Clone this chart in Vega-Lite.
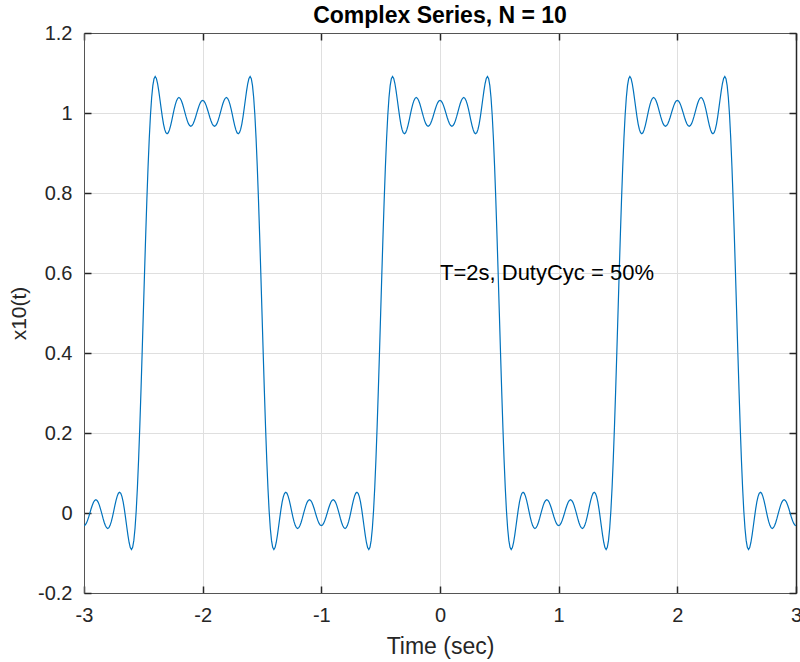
{
"$schema": "https://vega.github.io/schema/vega-lite/v6.json",
"width": 712, "height": 560,
"autosize": {"type": "none"},
"padding": {"left": 84, "top": 33, "right": 4, "bottom": 69},
"background": "white",
"config": {"font": "Liberation Sans", "view": {"stroke": null}},
"title": {"text": "Complex Series, N = 10", "fontSize": 23, "fontWeight": "bold", "color": "#000000", "offset": -5, "font": "Liberation Sans", "anchor": "middle"},
"datasets": {
"curve": [
{"t":-3,"y":-0.0315},{"t":-2.99,"y":-0.03},{"t":-2.98,"y":-0.0254},{"t":-2.97,"y":-0.0184},{"t":-2.96,"y":-0.0094},{"t":-2.95,"y":0.0005},{"t":-2.94,"y":0.0105},{"t":-2.93,"y":0.0195},{"t":-2.92,"y":0.0268},{"t":-2.91,"y":0.0315},
{"t":-2.9,"y":0.0331},{"t":-2.89,"y":0.0314},{"t":-2.88,"y":0.0266},{"t":-2.87,"y":0.019},{"t":-2.86,"y":0.0092},{"t":-2.85,"y":-0.0017},{"t":-2.84,"y":-0.0129},{"t":-2.83,"y":-0.0231},{"t":-2.82,"y":-0.0313},{"t":-2.81,"y":-0.0367},
{"t":-2.8,"y":-0.0386},{"t":-2.79,"y":-0.0367},{"t":-2.78,"y":-0.0309},{"t":-2.77,"y":-0.0216},{"t":-2.76,"y":-0.0096},{"t":-2.75,"y":0.0041},{"t":-2.74,"y":0.0182},{"t":-2.73,"y":0.0314},{"t":-2.72,"y":0.0423},{"t":-2.71,"y":0.0495},
{"t":-2.7,"y":0.052},{"t":-2.69,"y":0.0493},{"t":-2.68,"y":0.0411},{"t":-2.67,"y":0.0276},{"t":-2.66,"y":0.0096},{"t":-2.65,"y":-0.0114},{"t":-2.64,"y":-0.0338},{"t":-2.63,"y":-0.0553},{"t":-2.62,"y":-0.0737},{"t":-2.61,"y":-0.0864},
{"t":-2.6,"y":-0.0912},{"t":-2.59,"y":-0.0858},{"t":-2.58,"y":-0.0685},{"t":-2.57,"y":-0.0382},{"t":-2.56,"y":0.0057},{"t":-2.55,"y":0.0631},{"t":-2.54,"y":0.1332},{"t":-2.53,"y":0.2143},{"t":-2.52,"y":0.3043},{"t":-2.51,"y":0.4005},
{"t":-2.5,"y":0.5},{"t":-2.49,"y":0.5995},{"t":-2.48,"y":0.6957},{"t":-2.47,"y":0.7857},{"t":-2.46,"y":0.8668},{"t":-2.45,"y":0.9369},{"t":-2.44,"y":0.9943},{"t":-2.43,"y":1.0382},{"t":-2.42,"y":1.0685},{"t":-2.41,"y":1.0858},
{"t":-2.4,"y":1.0912},{"t":-2.39,"y":1.0864},{"t":-2.38,"y":1.0737},{"t":-2.37,"y":1.0553},{"t":-2.36,"y":1.0338},{"t":-2.35,"y":1.0114},{"t":-2.34,"y":0.9904},{"t":-2.33,"y":0.9724},{"t":-2.32,"y":0.9589},{"t":-2.31,"y":0.9507},
{"t":-2.3,"y":0.948},{"t":-2.29,"y":0.9505},{"t":-2.28,"y":0.9577},{"t":-2.27,"y":0.9686},{"t":-2.26,"y":0.9818},{"t":-2.25,"y":0.9959},{"t":-2.24,"y":1.0096},{"t":-2.23,"y":1.0216},{"t":-2.22,"y":1.0309},{"t":-2.21,"y":1.0367},
{"t":-2.2,"y":1.0386},{"t":-2.19,"y":1.0367},{"t":-2.18,"y":1.0313},{"t":-2.17,"y":1.0231},{"t":-2.16,"y":1.0129},{"t":-2.15,"y":1.0017},{"t":-2.14,"y":0.9908},{"t":-2.13,"y":0.981},{"t":-2.12,"y":0.9734},{"t":-2.11,"y":0.9686},
{"t":-2.1,"y":0.9669},{"t":-2.09,"y":0.9685},{"t":-2.08,"y":0.9732},{"t":-2.07,"y":0.9805},{"t":-2.06,"y":0.9895},{"t":-2.05,"y":0.9995},{"t":-2.04,"y":1.0094},{"t":-2.03,"y":1.0184},{"t":-2.02,"y":1.0254},{"t":-2.01,"y":1.03},
{"t":-2,"y":1.0315},
{"t":-1.99,"y":1.03},{"t":-1.98,"y":1.0254},{"t":-1.97,"y":1.0184},{"t":-1.96,"y":1.0094},{"t":-1.95,"y":0.9995},{"t":-1.94,"y":0.9895},{"t":-1.93,"y":0.9805},{"t":-1.92,"y":0.9732},{"t":-1.91,"y":0.9685},{"t":-1.9,"y":0.9669},
{"t":-1.89,"y":0.9686},{"t":-1.88,"y":0.9734},{"t":-1.87,"y":0.981},{"t":-1.86,"y":0.9908},{"t":-1.85,"y":1.0017},{"t":-1.84,"y":1.0129},{"t":-1.83,"y":1.0231},{"t":-1.82,"y":1.0313},{"t":-1.81,"y":1.0367},{"t":-1.8,"y":1.0386},
{"t":-1.79,"y":1.0367},{"t":-1.78,"y":1.0309},{"t":-1.77,"y":1.0216},{"t":-1.76,"y":1.0096},{"t":-1.75,"y":0.9959},{"t":-1.74,"y":0.9818},{"t":-1.73,"y":0.9686},{"t":-1.72,"y":0.9577},{"t":-1.71,"y":0.9505},{"t":-1.7,"y":0.948},
{"t":-1.69,"y":0.9507},{"t":-1.68,"y":0.9589},{"t":-1.67,"y":0.9724},{"t":-1.66,"y":0.9904},{"t":-1.65,"y":1.0114},{"t":-1.64,"y":1.0338},{"t":-1.63,"y":1.0553},{"t":-1.62,"y":1.0737},{"t":-1.61,"y":1.0864},{"t":-1.6,"y":1.0912},
{"t":-1.59,"y":1.0858},{"t":-1.58,"y":1.0685},{"t":-1.57,"y":1.0382},{"t":-1.56,"y":0.9943},{"t":-1.55,"y":0.9369},{"t":-1.54,"y":0.8668},{"t":-1.53,"y":0.7857},{"t":-1.52,"y":0.6957},{"t":-1.51,"y":0.5995},{"t":-1.5,"y":0.5},
{"t":-1.49,"y":0.4005},{"t":-1.48,"y":0.3043},{"t":-1.47,"y":0.2143},{"t":-1.46,"y":0.1332},{"t":-1.45,"y":0.0631},{"t":-1.44,"y":0.0057},{"t":-1.43,"y":-0.0382},{"t":-1.42,"y":-0.0685},{"t":-1.41,"y":-0.0858},{"t":-1.4,"y":-0.0912},
{"t":-1.39,"y":-0.0864},{"t":-1.38,"y":-0.0737},{"t":-1.37,"y":-0.0553},{"t":-1.36,"y":-0.0338},{"t":-1.35,"y":-0.0114},{"t":-1.34,"y":0.0096},{"t":-1.33,"y":0.0276},{"t":-1.32,"y":0.0411},{"t":-1.31,"y":0.0493},{"t":-1.3,"y":0.052},
{"t":-1.29,"y":0.0495},{"t":-1.28,"y":0.0423},{"t":-1.27,"y":0.0314},{"t":-1.26,"y":0.0182},{"t":-1.25,"y":0.0041},{"t":-1.24,"y":-0.0096},{"t":-1.23,"y":-0.0216},{"t":-1.22,"y":-0.0309},{"t":-1.21,"y":-0.0367},{"t":-1.2,"y":-0.0386},
{"t":-1.19,"y":-0.0367},{"t":-1.18,"y":-0.0313},{"t":-1.17,"y":-0.0231},{"t":-1.16,"y":-0.0129},{"t":-1.15,"y":-0.0017},{"t":-1.14,"y":0.0092},{"t":-1.13,"y":0.019},{"t":-1.12,"y":0.0266},{"t":-1.11,"y":0.0314},{"t":-1.1,"y":0.0331},
{"t":-1.09,"y":0.0315},{"t":-1.08,"y":0.0268},{"t":-1.07,"y":0.0195},{"t":-1.06,"y":0.0105},{"t":-1.05,"y":0.0005},{"t":-1.04,"y":-0.0094},{"t":-1.03,"y":-0.0184},{"t":-1.02,"y":-0.0254},{"t":-1.01,"y":-0.03},{"t":-1,"y":-0.0315},
{"t":-0.99,"y":-0.03},{"t":-0.98,"y":-0.0254},{"t":-0.97,"y":-0.0184},{"t":-0.96,"y":-0.0094},{"t":-0.95,"y":0.0005},{"t":-0.94,"y":0.0105},{"t":-0.93,"y":0.0195},{"t":-0.92,"y":0.0268},{"t":-0.91,"y":0.0315},
{"t":-0.9,"y":0.0331},{"t":-0.89,"y":0.0314},{"t":-0.88,"y":0.0266},{"t":-0.87,"y":0.019},{"t":-0.86,"y":0.0092},{"t":-0.85,"y":-0.0017},{"t":-0.84,"y":-0.0129},{"t":-0.83,"y":-0.0231},{"t":-0.82,"y":-0.0313},{"t":-0.81,"y":-0.0367},
{"t":-0.8,"y":-0.0386},{"t":-0.79,"y":-0.0367},{"t":-0.78,"y":-0.0309},{"t":-0.77,"y":-0.0216},{"t":-0.76,"y":-0.0096},{"t":-0.75,"y":0.0041},{"t":-0.74,"y":0.0182},{"t":-0.73,"y":0.0314},{"t":-0.72,"y":0.0423},{"t":-0.71,"y":0.0495},
{"t":-0.7,"y":0.052},{"t":-0.69,"y":0.0493},{"t":-0.68,"y":0.0411},{"t":-0.67,"y":0.0276},{"t":-0.66,"y":0.0096},{"t":-0.65,"y":-0.0114},{"t":-0.64,"y":-0.0338},{"t":-0.63,"y":-0.0553},{"t":-0.62,"y":-0.0737},{"t":-0.61,"y":-0.0864},
{"t":-0.6,"y":-0.0912},{"t":-0.59,"y":-0.0858},{"t":-0.58,"y":-0.0685},{"t":-0.57,"y":-0.0382},{"t":-0.56,"y":0.0057},{"t":-0.55,"y":0.0631},{"t":-0.54,"y":0.1332},{"t":-0.53,"y":0.2143},{"t":-0.52,"y":0.3043},{"t":-0.51,"y":0.4005},
{"t":-0.5,"y":0.5},{"t":-0.49,"y":0.5995},{"t":-0.48,"y":0.6957},{"t":-0.47,"y":0.7857},{"t":-0.46,"y":0.8668},{"t":-0.45,"y":0.9369},{"t":-0.44,"y":0.9943},{"t":-0.43,"y":1.0382},{"t":-0.42,"y":1.0685},{"t":-0.41,"y":1.0858},
{"t":-0.4,"y":1.0912},{"t":-0.39,"y":1.0864},{"t":-0.38,"y":1.0737},{"t":-0.37,"y":1.0553},{"t":-0.36,"y":1.0338},{"t":-0.35,"y":1.0114},{"t":-0.34,"y":0.9904},{"t":-0.33,"y":0.9724},{"t":-0.32,"y":0.9589},{"t":-0.31,"y":0.9507},
{"t":-0.3,"y":0.948},{"t":-0.29,"y":0.9505},{"t":-0.28,"y":0.9577},{"t":-0.27,"y":0.9686},{"t":-0.26,"y":0.9818},{"t":-0.25,"y":0.9959},{"t":-0.24,"y":1.0096},{"t":-0.23,"y":1.0216},{"t":-0.22,"y":1.0309},{"t":-0.21,"y":1.0367},
{"t":-0.2,"y":1.0386},{"t":-0.19,"y":1.0367},{"t":-0.18,"y":1.0313},{"t":-0.17,"y":1.0231},{"t":-0.16,"y":1.0129},{"t":-0.15,"y":1.0017},{"t":-0.14,"y":0.9908},{"t":-0.13,"y":0.981},{"t":-0.12,"y":0.9734},{"t":-0.11,"y":0.9686},
{"t":-0.1,"y":0.9669},{"t":-0.09,"y":0.9685},{"t":-0.08,"y":0.9732},{"t":-0.07,"y":0.9805},{"t":-0.06,"y":0.9895},{"t":-0.05,"y":0.9995},{"t":-0.04,"y":1.0094},{"t":-0.03,"y":1.0184},{"t":-0.02,"y":1.0254},{"t":-0.01,"y":1.03},
{"t":0,"y":1.0315},
{"t":0.01,"y":1.03},{"t":0.02,"y":1.0254},{"t":0.03,"y":1.0184},{"t":0.04,"y":1.0094},{"t":0.05,"y":0.9995},{"t":0.06,"y":0.9895},{"t":0.07,"y":0.9805},{"t":0.08,"y":0.9732},{"t":0.09,"y":0.9685},{"t":0.1,"y":0.9669},
{"t":0.11,"y":0.9686},{"t":0.12,"y":0.9734},{"t":0.13,"y":0.981},{"t":0.14,"y":0.9908},{"t":0.15,"y":1.0017},{"t":0.16,"y":1.0129},{"t":0.17,"y":1.0231},{"t":0.18,"y":1.0313},{"t":0.19,"y":1.0367},{"t":0.2,"y":1.0386},
{"t":0.21,"y":1.0367},{"t":0.22,"y":1.0309},{"t":0.23,"y":1.0216},{"t":0.24,"y":1.0096},{"t":0.25,"y":0.9959},{"t":0.26,"y":0.9818},{"t":0.27,"y":0.9686},{"t":0.28,"y":0.9577},{"t":0.29,"y":0.9505},{"t":0.3,"y":0.948},
{"t":0.31,"y":0.9507},{"t":0.32,"y":0.9589},{"t":0.33,"y":0.9724},{"t":0.34,"y":0.9904},{"t":0.35,"y":1.0114},{"t":0.36,"y":1.0338},{"t":0.37,"y":1.0553},{"t":0.38,"y":1.0737},{"t":0.39,"y":1.0864},{"t":0.4,"y":1.0912},
{"t":0.41,"y":1.0858},{"t":0.42,"y":1.0685},{"t":0.43,"y":1.0382},{"t":0.44,"y":0.9943},{"t":0.45,"y":0.9369},{"t":0.46,"y":0.8668},{"t":0.47,"y":0.7857},{"t":0.48,"y":0.6957},{"t":0.49,"y":0.5995},{"t":0.5,"y":0.5},
{"t":0.51,"y":0.4005},{"t":0.52,"y":0.3043},{"t":0.53,"y":0.2143},{"t":0.54,"y":0.1332},{"t":0.55,"y":0.0631},{"t":0.56,"y":0.0057},{"t":0.57,"y":-0.0382},{"t":0.58,"y":-0.0685},{"t":0.59,"y":-0.0858},{"t":0.6,"y":-0.0912},
{"t":0.61,"y":-0.0864},{"t":0.62,"y":-0.0737},{"t":0.63,"y":-0.0553},{"t":0.64,"y":-0.0338},{"t":0.65,"y":-0.0114},{"t":0.66,"y":0.0096},{"t":0.67,"y":0.0276},{"t":0.68,"y":0.0411},{"t":0.69,"y":0.0493},{"t":0.7,"y":0.052},
{"t":0.71,"y":0.0495},{"t":0.72,"y":0.0423},{"t":0.73,"y":0.0314},{"t":0.74,"y":0.0182},{"t":0.75,"y":0.0041},{"t":0.76,"y":-0.0096},{"t":0.77,"y":-0.0216},{"t":0.78,"y":-0.0309},{"t":0.79,"y":-0.0367},{"t":0.8,"y":-0.0386},
{"t":0.81,"y":-0.0367},{"t":0.82,"y":-0.0313},{"t":0.83,"y":-0.0231},{"t":0.84,"y":-0.0129},{"t":0.85,"y":-0.0017},{"t":0.86,"y":0.0092},{"t":0.87,"y":0.019},{"t":0.88,"y":0.0266},{"t":0.89,"y":0.0314},{"t":0.9,"y":0.0331},
{"t":0.91,"y":0.0315},{"t":0.92,"y":0.0268},{"t":0.93,"y":0.0195},{"t":0.94,"y":0.0105},{"t":0.95,"y":0.0005},{"t":0.96,"y":-0.0094},{"t":0.97,"y":-0.0184},{"t":0.98,"y":-0.0254},{"t":0.99,"y":-0.03},{"t":1,"y":-0.0315},
{"t":1.01,"y":-0.03},{"t":1.02,"y":-0.0254},{"t":1.03,"y":-0.0184},{"t":1.04,"y":-0.0094},{"t":1.05,"y":0.0005},{"t":1.06,"y":0.0105},{"t":1.07,"y":0.0195},{"t":1.08,"y":0.0268},{"t":1.09,"y":0.0315},
{"t":1.1,"y":0.0331},{"t":1.11,"y":0.0314},{"t":1.12,"y":0.0266},{"t":1.13,"y":0.019},{"t":1.14,"y":0.0092},{"t":1.15,"y":-0.0017},{"t":1.16,"y":-0.0129},{"t":1.17,"y":-0.0231},{"t":1.18,"y":-0.0313},{"t":1.19,"y":-0.0367},
{"t":1.2,"y":-0.0386},{"t":1.21,"y":-0.0367},{"t":1.22,"y":-0.0309},{"t":1.23,"y":-0.0216},{"t":1.24,"y":-0.0096},{"t":1.25,"y":0.0041},{"t":1.26,"y":0.0182},{"t":1.27,"y":0.0314},{"t":1.28,"y":0.0423},{"t":1.29,"y":0.0495},
{"t":1.3,"y":0.052},{"t":1.31,"y":0.0493},{"t":1.32,"y":0.0411},{"t":1.33,"y":0.0276},{"t":1.34,"y":0.0096},{"t":1.35,"y":-0.0114},{"t":1.36,"y":-0.0338},{"t":1.37,"y":-0.0553},{"t":1.38,"y":-0.0737},{"t":1.39,"y":-0.0864},
{"t":1.4,"y":-0.0912},{"t":1.41,"y":-0.0858},{"t":1.42,"y":-0.0685},{"t":1.43,"y":-0.0382},{"t":1.44,"y":0.0057},{"t":1.45,"y":0.0631},{"t":1.46,"y":0.1332},{"t":1.47,"y":0.2143},{"t":1.48,"y":0.3043},{"t":1.49,"y":0.4005},
{"t":1.5,"y":0.5},{"t":1.51,"y":0.5995},{"t":1.52,"y":0.6957},{"t":1.53,"y":0.7857},{"t":1.54,"y":0.8668},{"t":1.55,"y":0.9369},{"t":1.56,"y":0.9943},{"t":1.57,"y":1.0382},{"t":1.58,"y":1.0685},{"t":1.59,"y":1.0858},
{"t":1.6,"y":1.0912},{"t":1.61,"y":1.0864},{"t":1.62,"y":1.0737},{"t":1.63,"y":1.0553},{"t":1.64,"y":1.0338},{"t":1.65,"y":1.0114},{"t":1.66,"y":0.9904},{"t":1.67,"y":0.9724},{"t":1.68,"y":0.9589},{"t":1.69,"y":0.9507},
{"t":1.7,"y":0.948},{"t":1.71,"y":0.9505},{"t":1.72,"y":0.9577},{"t":1.73,"y":0.9686},{"t":1.74,"y":0.9818},{"t":1.75,"y":0.9959},{"t":1.76,"y":1.0096},{"t":1.77,"y":1.0216},{"t":1.78,"y":1.0309},{"t":1.79,"y":1.0367},
{"t":1.8,"y":1.0386},{"t":1.81,"y":1.0367},{"t":1.82,"y":1.0313},{"t":1.83,"y":1.0231},{"t":1.84,"y":1.0129},{"t":1.85,"y":1.0017},{"t":1.86,"y":0.9908},{"t":1.87,"y":0.981},{"t":1.88,"y":0.9734},{"t":1.89,"y":0.9686},
{"t":1.9,"y":0.9669},{"t":1.91,"y":0.9685},{"t":1.92,"y":0.9732},{"t":1.93,"y":0.9805},{"t":1.94,"y":0.9895},{"t":1.95,"y":0.9995},{"t":1.96,"y":1.0094},{"t":1.97,"y":1.0184},{"t":1.98,"y":1.0254},{"t":1.99,"y":1.03},
{"t":2,"y":1.0315},
{"t":2.01,"y":1.03},{"t":2.02,"y":1.0254},{"t":2.03,"y":1.0184},{"t":2.04,"y":1.0094},{"t":2.05,"y":0.9995},{"t":2.06,"y":0.9895},{"t":2.07,"y":0.9805},{"t":2.08,"y":0.9732},{"t":2.09,"y":0.9685},{"t":2.1,"y":0.9669},
{"t":2.11,"y":0.9686},{"t":2.12,"y":0.9734},{"t":2.13,"y":0.981},{"t":2.14,"y":0.9908},{"t":2.15,"y":1.0017},{"t":2.16,"y":1.0129},{"t":2.17,"y":1.0231},{"t":2.18,"y":1.0313},{"t":2.19,"y":1.0367},{"t":2.2,"y":1.0386},
{"t":2.21,"y":1.0367},{"t":2.22,"y":1.0309},{"t":2.23,"y":1.0216},{"t":2.24,"y":1.0096},{"t":2.25,"y":0.9959},{"t":2.26,"y":0.9818},{"t":2.27,"y":0.9686},{"t":2.28,"y":0.9577},{"t":2.29,"y":0.9505},{"t":2.3,"y":0.948},
{"t":2.31,"y":0.9507},{"t":2.32,"y":0.9589},{"t":2.33,"y":0.9724},{"t":2.34,"y":0.9904},{"t":2.35,"y":1.0114},{"t":2.36,"y":1.0338},{"t":2.37,"y":1.0553},{"t":2.38,"y":1.0737},{"t":2.39,"y":1.0864},{"t":2.4,"y":1.0912},
{"t":2.41,"y":1.0858},{"t":2.42,"y":1.0685},{"t":2.43,"y":1.0382},{"t":2.44,"y":0.9943},{"t":2.45,"y":0.9369},{"t":2.46,"y":0.8668},{"t":2.47,"y":0.7857},{"t":2.48,"y":0.6957},{"t":2.49,"y":0.5995},{"t":2.5,"y":0.5},
{"t":2.51,"y":0.4005},{"t":2.52,"y":0.3043},{"t":2.53,"y":0.2143},{"t":2.54,"y":0.1332},{"t":2.55,"y":0.0631},{"t":2.56,"y":0.0057},{"t":2.57,"y":-0.0382},{"t":2.58,"y":-0.0685},{"t":2.59,"y":-0.0858},{"t":2.6,"y":-0.0912},
{"t":2.61,"y":-0.0864},{"t":2.62,"y":-0.0737},{"t":2.63,"y":-0.0553},{"t":2.64,"y":-0.0338},{"t":2.65,"y":-0.0114},{"t":2.66,"y":0.0096},{"t":2.67,"y":0.0276},{"t":2.68,"y":0.0411},{"t":2.69,"y":0.0493},{"t":2.7,"y":0.052},
{"t":2.71,"y":0.0495},{"t":2.72,"y":0.0423},{"t":2.73,"y":0.0314},{"t":2.74,"y":0.0182},{"t":2.75,"y":0.0041},{"t":2.76,"y":-0.0096},{"t":2.77,"y":-0.0216},{"t":2.78,"y":-0.0309},{"t":2.79,"y":-0.0367},{"t":2.8,"y":-0.0386},
{"t":2.81,"y":-0.0367},{"t":2.82,"y":-0.0313},{"t":2.83,"y":-0.0231},{"t":2.84,"y":-0.0129},{"t":2.85,"y":-0.0017},{"t":2.86,"y":0.0092},{"t":2.87,"y":0.019},{"t":2.88,"y":0.0266},{"t":2.89,"y":0.0314},{"t":2.9,"y":0.0331},
{"t":2.91,"y":0.0315},{"t":2.92,"y":0.0268},{"t":2.93,"y":0.0195},{"t":2.94,"y":0.0105},{"t":2.95,"y":0.0005},{"t":2.96,"y":-0.0094},{"t":2.97,"y":-0.0184},{"t":2.98,"y":-0.0254},{"t":2.99,"y":-0.03},{"t":3,"y":-0.0315}
],
"note": [{"t": 0, "y": 0.6, "label": "T=2s, DutyCyc = 50%"}]
},
"layer": [
{
"data": {"name": "curve"},
"mark": {"type": "line", "color": "#0072BD", "strokeWidth": 1.2, "clip": true},
"encoding": {
"x": {"field": "t", "type": "quantitative",
"scale": {"domain": [-3, 3], "nice": false, "zero": false},
"axis": {"orient": "bottom", "values": [-3, -2, -1, 0, 1, 2, 3],
"labelExpr": "datum.value < 0 ? '-' + format(-datum.value, '~g') : format(datum.value, '~g')",
"title": "Time (sec)", "titleFontSize": 23, "titleFontWeight": "normal", "titleColor": "#262626", "titlePadding": 10,
"labelFontSize": 20, "labelColor": "#262626", "labelPadding": 19, "labelFlush": false,
"domain": true, "domainColor": "#555555", "domainWidth": 1,
"ticks": true, "tickSize": -7, "tickColor": "#262626", "tickWidth": 1.5,
"grid": true, "gridColor": "#dfdfdf", "gridWidth": 1}},
"y": {"field": "y", "type": "quantitative",
"scale": {"domain": [-0.2, 1.2], "nice": false, "zero": false},
"axis": {"orient": "left", "values": [-0.2, 0, 0.2, 0.4, 0.6, 0.8, 1, 1.2],
"labelExpr": "datum.value < 0 ? '-' + format(-datum.value, '~g') : format(datum.value, '~g')",
"title": "x10(t)", "titleFontSize": 21, "titleFontWeight": "normal", "titleColor": "#262626", "titlePadding": 8,
"labelFontSize": 20, "labelColor": "#262626", "labelPadding": 19, "labelFlush": false,
"domain": true, "domainColor": "#555555", "domainWidth": 1,
"ticks": true, "tickSize": -7, "tickColor": "#262626", "tickWidth": 1.5,
"grid": true, "gridColor": "#dfdfdf", "gridWidth": 1}}
}
},
{
"data": {"name": "note"},
"mark": {"type": "text", "align": "left", "baseline": "middle", "fontSize": 22, "color": "#000000", "font": "Liberation Sans"},
"encoding": {
"x": {"field": "t", "type": "quantitative",
"axis": {"orient": "top", "values": [-3, -2, -1, 0, 1, 2, 3], "labels": false, "title": null, "grid": false,
"domain": true, "domainColor": "#555555", "domainWidth": 1,
"ticks": true, "tickSize": -7, "tickColor": "#262626", "tickWidth": 1.5}},
"y": {"field": "y", "type": "quantitative",
"axis": {"orient": "right", "values": [-0.2, 0, 0.2, 0.4, 0.6, 0.8, 1, 1.2], "labels": false, "title": null, "grid": false,
"domain": true, "domainColor": "#262626", "domainWidth": 1.5,
"ticks": true, "tickSize": -7, "tickColor": "#262626", "tickWidth": 1.5}},
"text": {"field": "label"}
}
}
],
"resolve": {"axis": {"x": "independent", "y": "independent"}}
}
